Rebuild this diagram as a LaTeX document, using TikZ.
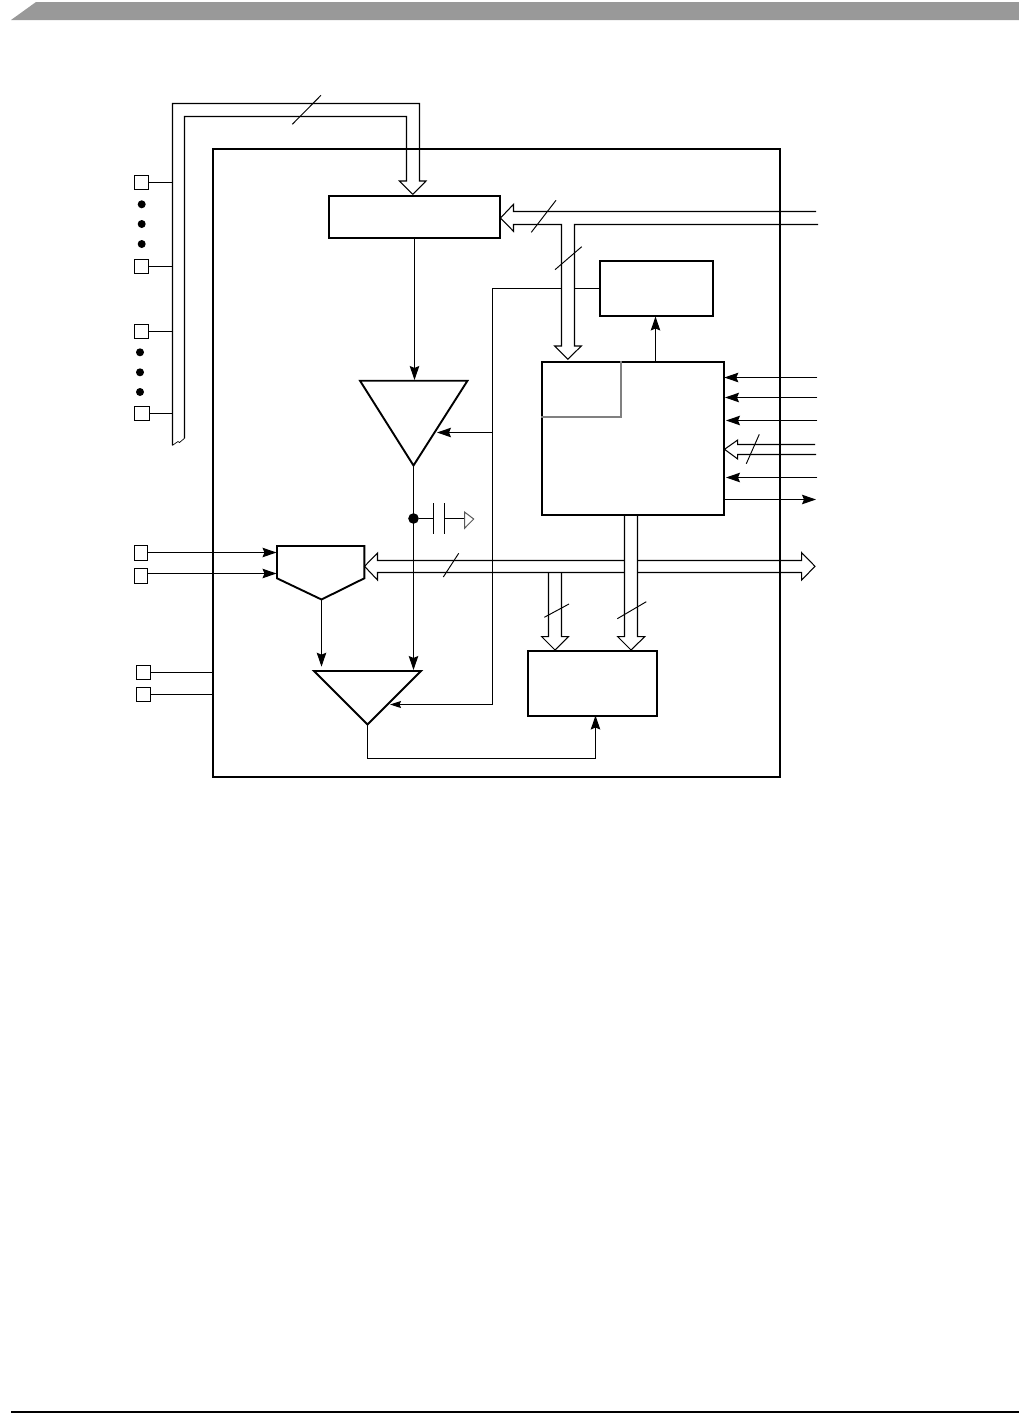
\documentclass[tikz,border=0pt]{standalone}
\usetikzlibrary{arrows.meta,calc}
\tikzset{
  x=1pt,y=-1pt,
  wire/.style={line width=1.05pt,line join=miter},
  arr/.style={wire,-{Stealth[length=14pt,width=9.5pt,inset=2pt]}},
  smallarr/.style={wire,-{Stealth[length=11pt,width=7pt,inset=1.5pt]}},
  bus/.style={line width=1.05pt,line join=miter,miter limit=10},
  slash/.style={line width=0.95pt},
  frameline/.style={draw,line width=2.3pt,fill=none,line join=miter},
  blk/.style={draw,line width=2.2pt,fill=white,inner sep=0pt,outer sep=0pt,rectangle},
  pin/.style={draw,line width=1.05pt,fill=white,inner sep=0pt,outer sep=0pt,rectangle,minimum width=14.4pt,minimum height=14.2pt},
  tribox/.style={draw,line width=1.9pt,fill=white,line join=miter},
  dotmark/.style={circle,fill=black,inner sep=0pt,outer sep=0pt,minimum size=8pt},
}
\begin{document}
\begin{tikzpicture}
\useasboundingbox (0,0) rectangle (1019,1419);
% page furniture
\fill[black!40] (11,20) -- (36,2) -- (1019,2) -- (1019,20) -- cycle;
\draw[line width=1.6pt] (11,1412) -- (1019,1412);
% outer frame
\node[frameline,rectangle,inner sep=0pt,outer sep=0pt,minimum width=567.3pt,minimum height=627.7pt] (frame) at (496.35,462.85) {};
% blocks
\node[blk,minimum width=171.3pt,minimum height=42pt] (reg) at (414.5,216.7) {};
\node[blk,minimum width=113.3pt,minimum height=54.3pt] (sbox) at (656.35,288.5) {};
\node[blk,minimum width=182pt,minimum height=152.7pt] (ctrl) at (633,438.35) {};
\node[blk,minimum width=129.3pt,minimum height=65pt] (lbox) at (592.35,683.5) {};
% pins
\node[pin] (p1) at (141.5,182.5) {};
\node[pin] (p2) at (141.5,266.5) {};
\node[pin] (p3) at (141.5,331.5) {};
\node[pin,minimum width=15pt] (p4) at (141.8,413.5) {};
\node[pin,minimum width=13.4pt,minimum height=14.6pt] (p5) at (141,553) {};
\node[pin,minimum width=13.4pt,minimum height=14.6pt] (p6) at (141,576) {};
\node[pin] (p7) at (143.5,672.5) {};
\node[pin] (p8) at (143.5,694.5) {};
% dots
\foreach \n/\x/\y in {d1/141.7/204.3,d2/141.7/224,d3/141.7/244,d4/140/352.3,d5/140/372.3,d6/140/392}
  \node[dotmark] (\n) at (\x,\y) {};
% triangle and mux shapes
\coordinate (t1a) at (360,380.7); \coordinate (t1b) at (467.5,380.7); \coordinate (t1c) at (413.5,465.5);
\draw[tribox] (t1a) -- (t1b) -- (t1c) -- cycle;
\coordinate (t2a) at (314,671); \coordinate (t2b) at (421,671); \coordinate (t2c) at (367.5,724.5);
\draw[tribox] (t2a) -- (t2b) -- (t2c) -- cycle;
\coordinate (m1) at (277,546); \coordinate (m2) at (364.3,546); \coordinate (m3) at (364.3,578.3);
\coordinate (m4) at (321.5,599.5); \coordinate (m5) at (277,578.3);
\draw[tribox] (m1) -- (m2) -- (m3) -- (m4) -- (m5) -- cycle;
% address bus, left rail, into register
\coordinate (bl) at (172.5,445.3); \coordinate (blt) at (172.5,103.5); \coordinate (brt) at (419.5,103.5);
\coordinate (ibl) at (184.5,438.3); \coordinate (ilt) at (184.5,116.5); \coordinate (irt) at (406.5,116.5);
\coordinate (hr) at (419.5,181); \coordinate (hl) at (406.5,181);
\coordinate (wr) at (426,181); \coordinate (wl) at (399.3,181); \coordinate (tip1) at (412.8,194.3);
\draw[bus] (bl) -- (blt) -- (brt) -- (hr) -- (wr) -- (tip1) -- (wl) -- (hl) -- (irt) -- (ilt) -- (ibl);
\draw[line width=0.7pt] (bl) -- (178,441.5) -- (179.5,442.5) -- (ibl);
\coordinate (s1a) at (292.3,124.3); \coordinate (s1b) at (321,95.3);
\draw[slash] (s1a) -- (s1b);
\foreach \p in {p1,p2,p3,p4} \draw[wire] (\p.east) -- (\p.east -| bl);
% bus from the right into register
\coordinate (rt1) at (816,211.5); \coordinate (rb1) at (818,224.5);
\coordinate (s2) at (513.5,211.5); \coordinate (s3) at (513.5,224.5);
\coordinate (w2) at (513.5,204.3); \coordinate (w3) at (513.5,231.3); \coordinate (tip2) at (500.5,218);
\coordinate (j1) at (561.5,224.5); \coordinate (j2) at (574.5,224.5);
\coordinate (h1) at (561.5,346); \coordinate (h2) at (574.5,346);
\coordinate (w4) at (554.7,346); \coordinate (w5) at (581.3,346); \coordinate (tip3) at (567.8,359.3);
\draw[bus] (rt1) -- (s2) -- (w2) -- (tip2) -- (w3) -- (s3) -- (j1) -- (h1) -- (w4) -- (tip3) -- (w5) -- (h2) -- (j2) -- (rb1);
\coordinate (s4a) at (531.3,232.3); \coordinate (s4b) at (556,200.3);
\draw[slash] (s4a) -- (s4b);
\coordinate (s5a) at (555,269.7); \coordinate (s5b) at (581.7,246.7);
\draw[slash] (s5a) -- (s5b);
% control line
\coordinate (c1) at (561.5,288.5); \coordinate (c2) at (574.5,288.5); \coordinate (c3) at (492.5,288.5);
\coordinate (c4) at (492.5,704.5); \coordinate (c5) at (492.5,432.5);
\coordinate (tc1) at (437,432.5); \coordinate (tc2) at (390,704.5);
\draw[wire] (sbox.west |- c2) -- (c2);
\draw[wire] (c1) -- (c3) -- (c4);
\draw[arr] (c5) -- (tc1);
\draw[smallarr] (c4) -- (tc2);
% vertical signals
\coordinate (r1) at (414.5,380); \draw[arr] (reg.south) -- (r1);
\coordinate (m6) at (321.5,666.7); \draw[arr] (m4) -- (m6);
\coordinate (t3) at (413.5,670); \draw[arr] (t1c) -- (t3);
\node[circle,fill=black,inner sep=0pt,outer sep=0pt,minimum size=10.6pt] (njunc) at (413.5,518.5) {};
% capacitor and ground
\coordinate (cp1) at (433.5,518.5); \coordinate (cp2) at (444.5,518.5); \coordinate (gd) at (464.5,518.5);
\draw[wire] (njunc) -- (cp1);
\draw[wire] (cp2) -- (gd);
\coordinate (cp1t) at (433.5,503.3); \coordinate (cp1b) at (433.5,533.7);
\coordinate (cp2t) at (444.5,503.3); \coordinate (cp2b) at (444.5,533.7);
\draw[wire] (cp1t) -- (cp1b);
\draw[wire] (cp2t) -- (cp2b);
\coordinate (ga) at (464.5,512); \coordinate (gb) at (473.7,519); \coordinate (gc) at (464.5,528.3);
\draw[line width=1pt,draw=black!65] (ga) -- (gb) -- (gc) -- cycle;
% mux inputs
\coordinate (mi1) at (276.5,552.5); \coordinate (mi2) at (276.5,573.5);
\draw[arr] (p5.east |- mi1) -- (mi1);
\draw[arr] (p6.east |- mi2) -- (mi2);
% lower pins to frame
\draw[wire] (p7.east) -- (p7.east -| frame.west);
\draw[wire] (p8.east) -- (p8.east -| frame.west);
% sbox / ctrl
\coordinate (cu) at (655.5,362); \coordinate (cv) at (655.5,316.5);
\draw[arr] (cu) -- (cv);
% gray inner corner
\coordinate (g1) at (621,360.5); \coordinate (g2) at (621,416.5); \coordinate (g3) at (540.7,416.5);
\draw[line width=2pt,draw=black!50] (g1) -- (g2) -- (g3);
% right signals
\coordinate (i1) at (817.3,377.5); \coordinate (i1t) at (724.3,377.5);
\coordinate (i2) at (817.3,397.5); \coordinate (i2t) at (725,397.5);
\coordinate (i3) at (817.3,420.5); \coordinate (i3t) at (726,420.5);
\coordinate (i4) at (817.3,477.5); \coordinate (i4t) at (726,477.5);
\draw[arr] (i1) -- (i1t);
\draw[arr] (i2) -- (i2t);
\draw[arr] (i3) -- (i3t);
\draw[arr] (i4) -- (i4t);
\coordinate (o1) at (724,499.5); \coordinate (o1t) at (816,499.5);
\draw[arr] (o1) -- (o1t);
% small bus into ctrl
\coordinate (b1) at (815,444.5); \coordinate (b2) at (816,454.5);
\coordinate (b3) at (737.7,444.5); \coordinate (b4) at (737.7,454.5);
\coordinate (b5) at (737.7,440); \coordinate (b6) at (737.7,459); \coordinate (tip4) at (724.5,449.3);
\draw[bus] (b1) -- (b3) -- (b5) -- (tip4) -- (b6) -- (b4) -- (b2);
\coordinate (s6a) at (746.3,463.7); \coordinate (s6b) at (759.3,434.3);
\draw[slash] (s6a) -- (s6b);
% data bus
\coordinate (dl1) at (377.5,560.5); \coordinate (dl2) at (377.5,572.5);
\coordinate (dlw1) at (377.5,553); \coordinate (dlw2) at (377.5,580); \coordinate (dtip) at (364.5,566.3);
\coordinate (vl) at (624.5,560.5); \coordinate (vlb) at (624.5,572.5);
\coordinate (vr) at (637.5,560.5); \coordinate (vrb) at (637.5,572.5);
\coordinate (dr1) at (801.7,560.5); \coordinate (dr2) at (801.7,572.5);
\coordinate (drw1) at (801.7,552.7); \coordinate (drw2) at (801.7,580); \coordinate (drt) at (815,566.3);
\coordinate (bb1) at (548.5,572.5); \coordinate (bb2) at (561.5,572.5);
\draw[bus] (vl) -- (dl1) -- (dlw1) -- (dtip) -- (dlw2) -- (dl2) -- (vlb);
\draw[bus] (vr) -- (dr1) -- (drw1) -- (drt) -- (drw2) -- (dr2) -- (vrb);
\coordinate (s7a) at (443.3,577); \coordinate (s7b) at (458.7,553.3);
\draw[slash] (s7a) -- (s7b);
% bus from ctrl to lower box
\coordinate (v1) at (624.5,514.7); \coordinate (v2) at (637.5,514.7);
\coordinate (v3) at (624.5,636.7); \coordinate (v4) at (637.5,636.7);
\coordinate (v5) at (617.7,636.7); \coordinate (v6) at (644.7,636.7); \coordinate (tip5) at (631,650);
\draw[bus] (v1) -- (v3) -- (v5) -- (tip5) -- (v6) -- (v4) -- (v2);
\coordinate (bh1) at (548.5,636.7); \coordinate (bh2) at (561.5,636.7);
\coordinate (bh3) at (541.7,636.7); \coordinate (bh4) at (568.3,636.7); \coordinate (tip6) at (555,650);
\draw[bus] (bb1) -- (bh1) -- (bh3) -- (tip6) -- (bh4) -- (bh2) -- (bb2);
\coordinate (s8a) at (544.3,617.3); \coordinate (s8b) at (569,604);
\draw[slash] (s8a) -- (s8b);
\coordinate (s9a) at (617.3,618.7); \coordinate (s9b) at (646.3,601.7);
\draw[slash] (s9a) -- (s9b);
% output of lower triangle
\coordinate (q1) at (367.5,758.5); \coordinate (q2) at (595.5,758.5); \coordinate (q3) at (595.5,715.5);
\draw[arr] (t2c) -- (q1) -- (q2) -- (q3);
\end{tikzpicture}
\end{document}
